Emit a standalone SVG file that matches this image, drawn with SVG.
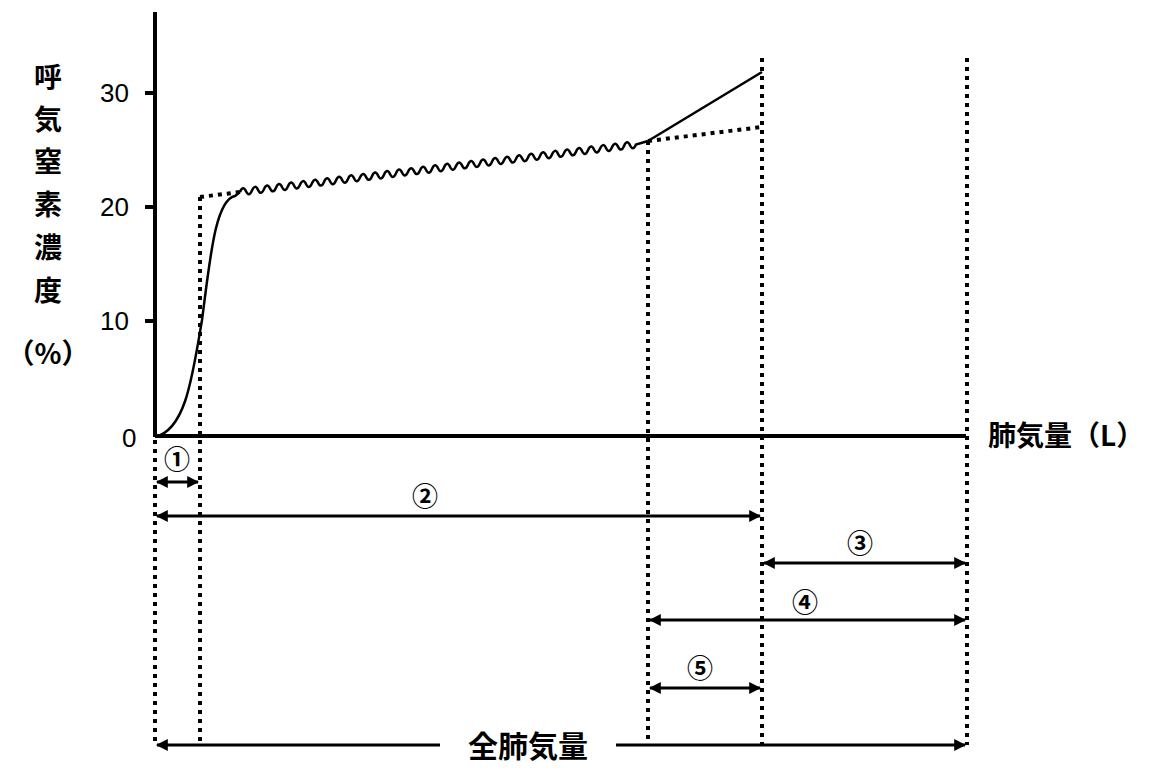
<svg xmlns="http://www.w3.org/2000/svg" width="1160" height="779" viewBox="0 0 1160 779">
<defs>
<marker id="ah" viewBox="0 0 10 10" refX="9" refY="5" markerWidth="4" markerHeight="4" orient="auto-start-reverse" markerUnits="strokeWidth"><path d="M0,0 L10,5 L0,10 Z" fill="#000"/></marker>
</defs>
<style>
.ax{stroke:#000;stroke-width:4;fill:none}
.dot{stroke:#000;stroke-width:4;stroke-dasharray:4,5;fill:none}
.cur{stroke:#000;stroke-width:2.5;fill:none}
.arr{stroke:#000;stroke-width:3;fill:none;marker-start:url(#ah);marker-end:url(#ah)}
text{font-family:"Noto Sans CJK JP","Liberation Sans",sans-serif;fill:#000;font-weight:bold}
.n{font-size:26px;font-family:"Liberation Sans",sans-serif;font-weight:normal}
.c{font-size:26px;text-anchor:middle}
.y{font-size:28px;text-anchor:middle}
</style>
<rect width="1160" height="779" fill="#fff"/>
<g id="axes">
<path class="ax" d="M155,12 V437 M155,436 H966"/>
<path class="ax" d="M145,93 H155 M145,207 H155 M145,321 H155"/>
<text class="n" x="100" y="102">30</text>
<text class="n" x="100" y="216">20</text>
<text class="n" x="100" y="330">10</text>
<text class="n" x="122" y="447">0</text>
<text class="y" x="48" y="88">呼</text>
<text class="y" x="48" y="130">気</text>
<text class="y" x="48" y="172">窒</text>
<text class="y" x="48" y="215">素</text>
<text class="y" x="48" y="258">濃</text>
<text class="y" x="48" y="301">度</text>
<text class="y" x="48" y="364">（%）</text>
<text x="988" y="446" style="font-size:28px">肺気量（L）</text>
</g>
<g id="guides">
<path class="dot" d="M155,440 V745 M200,197 V745 M648,141 V745 M762,58 V745 M967,58 V745"/>
<path class="dot" d="M200,197 L240,192 M648,141 L762,127"/>
</g>
<g id="curve">
<path class="cur" d="M155,437 C185,430 192,380 202,320 C210,260 215,200 235,196 L240,192"/>
<path class="cur" d="M240,192 q3,-7 6,-0.72 t6,-0.72 t6,-0.72 t6,-0.72 t6,-0.72 t6,-0.72 t6,-0.72 t6,-0.72 t6,-0.72 t6,-0.72 t6,-0.72 t6,-0.72 t6,-0.72 t6,-0.72 t6,-0.72 t6,-0.72 t6,-0.72 t6,-0.72 t6,-0.72 t6,-0.72 t6,-0.72 t6,-0.72 t6,-0.72 t6,-0.72 t6,-0.72 t6,-0.72 t6,-0.72 t6,-0.72 t6,-0.72 t6,-0.72 t6,-0.72 t6,-0.72 t6,-0.72 t6,-0.72 t6,-0.72 t6,-0.72 t6,-0.72 t6,-0.72 t6,-0.72 t6,-0.72 t6,-0.72 t6,-0.72 t6,-0.72 t6,-0.72 t6,-0.72 t6,-0.72 t6,-0.72 t6,-0.72 t6,-0.72 t6,-0.72 t6,-0.72 t6,-0.72 t6,-0.72 t6,-0.72 t6,-0.72 t6,-0.72 t6,-0.72 t6,-0.72 t6,-0.72 t6,-0.72 t6,-0.72 t6,-0.72 t6,-0.72 t6,-0.72 t6,-0.72 t6,-0.72 L648,141"/>
<path class="cur" d="M648,141 L762,72"/>
</g>
<g id="connectors">
<path class="arr" d="M157,482 H198"/>
<path class="arr" d="M157,516 H760"/>
<path class="arr" d="M764,563 H965"/>
<path class="arr" d="M650,620 H965"/>
<path class="arr" d="M650,688 H760"/>
<path class="arr" d="M157,745 H965"/>
</g>
<g id="labels">
<text class="c" x="177" y="469">①</text>
<text class="c" x="425" y="506">②</text>
<text class="c" x="860" y="553">③</text>
<text class="c" x="805" y="612">④</text>
<text class="c" x="700" y="678">⑤</text>
<rect x="440" y="728" width="176" height="34" fill="#fff"/>
<text x="528" y="757" style="font-size:30px;text-anchor:middle">全肺気量</text>
</g>
</svg>
